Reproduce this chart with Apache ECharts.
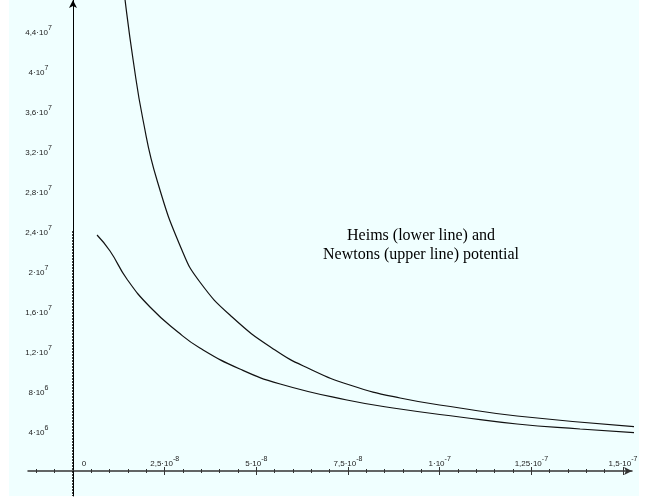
<!DOCTYPE html>
<html><head><meta charset="utf-8">
<script src="https://cdn.jsdelivr.net/npm/echarts@6/dist/echarts.min.js"></script>
<style>html,body{margin:0;padding:0;background:#fff}#c{width:650px;height:502px}</style>
</head><body><div id="c"></div>
<script>
// Newton potential (upper line): distance r [m], potential V
const newtonR = [1.28e-8, 1.42e-8, 1.64e-8, 1.91e-8, 2.29e-8, 2.97e-8, 3.46e-8, 4.34e-8, 5.51e-8, 6.46e-8, 7.55e-8, 8.92e-8, 1.055e-7, 1.211e-7, 1.541e-7];
const newtonV = [5.17e7, 4.71e7, 4.11e7, 3.51e7, 2.91e7, 2.21e7, 1.89e7, 1.54e7, 1.21e7, 1.02e7, 8.6e6, 7.3e6, 6.3e6, 5.5e6, 4.4e6];
// Heim potential (lower line)
const heimR = [6.55e-9, 1.01e-8, 1.47e-8, 2.10e-8, 2.86e-8, 3.46e-8, 4.55e-8, 5.65e-8, 7.47e-8, 8.92e-8, 1.055e-7, 1.211e-7, 1.383e-7, 1.541e-7];
const heimV = [2.36e7, 2.20e7, 1.92e7, 1.64e7, 1.39e7, 1.23e7, 1.02e7, 8.7e6, 7.1e6, 6.2e6, 5.4e6, 4.7e6, 4.2e6, 3.8e6];

const xTickValues = [0, 2.5e-8, 5e-8, 7.5e-8, 1e-7, 1.25e-7, 1.5e-7];
const xTickMantissa = ['0', '2,5', '5', '7,5', '1', '1,25', '1,5'];
const xTickExponent = ['', '-8', '-8', '-8', '-7', '-7', '-7'];
const xMinorTickValues = [-1e-8, -0.5e-8, 0, 0.5e-8, 1e-8, 1.5e-8, 2e-8, 2.5e-8, 3e-8, 3.5e-8, 4e-8, 4.5e-8, 5e-8, 5.5e-8, 6e-8, 6.5e-8, 7e-8, 7.5e-8, 8e-8, 8.5e-8, 9e-8, 9.5e-8, 1e-7, 1.05e-7, 1.1e-7, 1.15e-7, 1.2e-7, 1.25e-7, 1.3e-7, 1.35e-7, 1.4e-7, 1.45e-7, 1.5e-7];

const yTickValues = [4e6, 8e6, 1.2e7, 1.6e7, 2e7, 2.4e7, 2.8e7, 3.2e7, 3.6e7, 4e7, 4.4e7];
const yTickMantissa = ['4', '8', '1,2', '1,6', '2', '2,4', '2,8', '3,2', '3,6', '4', '4,4'];
const yTickExponent = ['6', '6', '7', '7', '7', '7', '7', '7', '7', '7', '7'];

const dashedMarker = [2.4e7, -2.5e6];
const annotation = ['Heims (lower line) and', 'Newtons (upper line) potential'];

const xMin = -1.227e-8, xMax = 1.5245e-7, yMin = -2.5e6, yMax = 4.71e7;

function findIdx(arr, v, tol) {
  for (let i = 0; i < arr.length; i++) if (Math.abs(arr[i] - v) < tol) return i;
  return -1;
}
const FONT = 'Liberation Sans';
const sep = '\u00b710';
const rich = {
  m: {fontFamily: FONT, fontSize: 8, color: '#222', lineHeight: 12, verticalAlign: 'bottom'},
  s: {fontFamily: FONT, fontSize: 7, color: '#222', verticalAlign: 'top'},
  z: {fontFamily: FONT, fontSize: 8, color: '#222', lineHeight: 12, verticalAlign: 'bottom', padding: [0, 0, 0, 22]}
};
// centre the y labels: measure each and add a right spacer
const mctx = document.createElement('canvas').getContext('2d');
function labelWidth(mant, exp) {
  mctx.font = '8px "' + FONT + '"';
  let w = mctx.measureText(mant + sep).width;
  mctx.font = '7px "' + FONT + '"';
  return w + mctx.measureText(exp).width;
}
const yWidths = yTickMantissa.map((m, i) => labelWidth(m, yTickExponent[i]));
const yMaxW = Math.max.apply(null, yWidths);
const yRich = Object.assign({}, rich);
yWidths.forEach((w, i) => { yRich['p' + i] = {width: Math.max(0.01, (yMaxW - w) / 2), fontSize: 8, lineHeight: 12}; });
const gridLeft = 28;
const yLabelCenterX = 38.5;

const hiddenLine = {color: 'rgba(0,0,0,0)', width: 0.01};
const chart = echarts.init(document.getElementById('c'), null, {renderer: 'canvas'});
const commonX = {type: 'value', min: xMin, max: xMax, splitLine: {show: false}};
chart.setOption({
  backgroundColor: '#ffffff',
  animation: false,
  graphic: [{type: 'rect', z: -10, silent: true, shape: {x: 9, y: 0, width: 630, height: 496}, style: {fill: '#f0ffff'}}],
  title: {
    text: annotation.join('\n'), left: 416, top: 221, textAlign: 'center',
    textStyle: {fontFamily: 'Liberation Serif', fontSize: 16, fontWeight: 'normal', color: '#000', lineHeight: 19}
  },
  grid: {left: gridLeft, right: 18, top: 0, bottom: 6, containLabel: false, outerBoundsMode: 'none'},
  xAxis: [
    Object.assign({}, commonX, {
      position: 'bottom',
      axisLine: {show: true, onZero: true, onZeroAxisIndex: 0, symbol: ['none', 'arrow'], symbolSize: [6, 8], lineStyle: {color: '#333', width: 1.5}},
      axisTick: {show: true, customValues: xMinorTickValues, length: 2, lineStyle: {color: '#333'}},
      axisLabel: {show: false}
    }),
    Object.assign({}, commonX, {
      position: 'top',
      axisLine: {show: true, onZero: true, onZeroAxisIndex: 0, lineStyle: hiddenLine},
      axisTick: {show: true, customValues: xMinorTickValues, length: 2, lineStyle: {color: '#333'}},
      axisLabel: {show: false}
    }),
    Object.assign({}, commonX, {
      position: 'bottom',
      axisLine: {show: true, onZero: true, onZeroAxisIndex: 0, lineStyle: hiddenLine},
      axisTick: {show: true, customValues: xTickValues.slice(1), length: 4, lineStyle: {color: '#333'}},
      axisLabel: {show: false}
    }),
    Object.assign({}, commonX, {
      position: 'top',
      axisLine: {show: true, onZero: true, onZeroAxisIndex: 0, lineStyle: hiddenLine},
      axisTick: {show: true, customValues: xTickValues.slice(1), length: 4, lineStyle: {color: '#333'}},
      axisLabel: {show: false}
    }),
    Object.assign({}, commonX, {
      position: 'bottom', offset: -25,
      axisLine: {show: false, onZero: false},
      axisTick: {show: false},
      axisLabel: {
        show: true, inside: true, customValues: xTickValues, margin: 3, rich: rich,
        formatter: function (v) {
          const i = findIdx(xTickValues, v, 1e-12);
          if (i < 0) return '';
          if (xTickExponent[i] === '') return '{z|' + xTickMantissa[i] + '}';
          return '{m|' + xTickMantissa[i] + sep + '}{s|' + xTickExponent[i] + '}';
        }
      }
    })
  ],
  yAxis: [
    {
      type: 'value', min: yMin, max: yMax, position: 'left', splitLine: {show: false},
      axisLine: {show: true, onZero: true, onZeroAxisIndex: 0, symbol: ['none', 'arrow'], symbolSize: [6, 8], lineStyle: {color: '#000', width: 1}},
      axisTick: {show: false},
      axisLabel: {show: false}
    },
    {
      type: 'value', min: yMin, max: yMax, position: 'left', offset: 0, splitLine: {show: false},
      axisLine: {show: false, onZero: false},
      axisTick: {show: false},
      axisLabel: {
        show: true, customValues: yTickValues, margin: gridLeft - yLabelCenterX - yMaxW / 2, rich: yRich,
        formatter: function (v) {
          const i = findIdx(yTickValues, v, 1);
          if (i < 0) return '';
          return '{m|' + yTickMantissa[i] + sep + '}{s|' + yTickExponent[i] + '}{p' + i + '| }';
        }
      }
    }
  ],
  series: [
    {
      name: 'Newton', type: 'line', xAxisIndex: 0, yAxisIndex: 0, clip: false,
      showSymbol: false, smooth: 0.5,
      lineStyle: {color: '#111', width: 1.2},
      data: newtonR.map((r, i) => [r, newtonV[i]])
    },
    {
      name: 'Heim', type: 'line', xAxisIndex: 0, yAxisIndex: 0, clip: false,
      showSymbol: false, smooth: 0.5,
      lineStyle: {color: '#111', width: 1.2},
      data: heimR.map((r, i) => [r, heimV[i]]),
      markLine: {
        silent: true, symbol: ['none', 'none'], label: {show: false},
        lineStyle: {color: '#000', width: 1.5, type: [2, 1]},
        data: [[{coord: [0, dashedMarker[0]]}, {coord: [0, dashedMarker[1]]}]]
      }
    }
  ]
});
</script></body></html>
